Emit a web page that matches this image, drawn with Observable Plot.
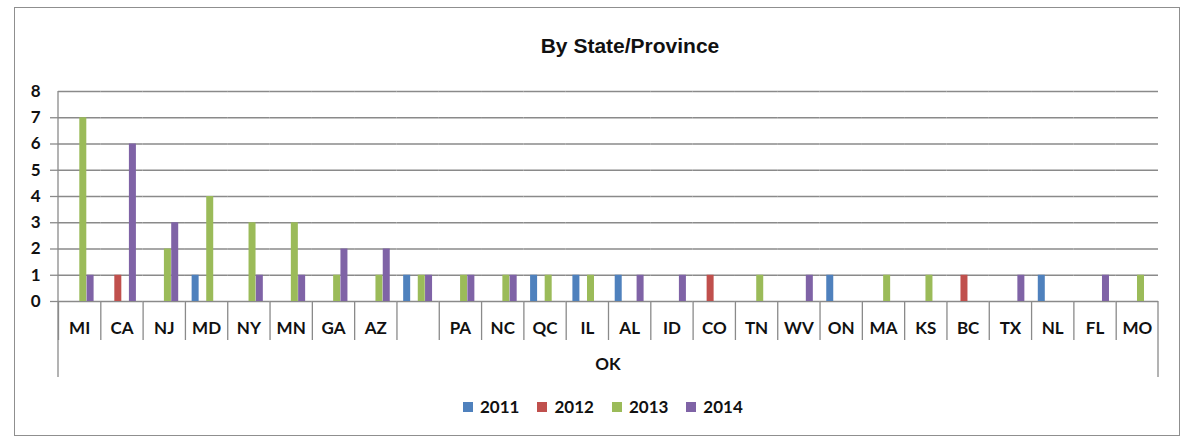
<!DOCTYPE html>
<html>
<head>
<meta charset="utf-8">
<script src="https://cdn.jsdelivr.net/npm/d3@7"></script>
<script src="https://cdn.jsdelivr.net/npm/@observablehq/plot@0.6"></script>
<style>
  body { margin: 0; background: #fff; }
  #wrap { position: relative; width: 1188px; height: 437px; overflow: hidden; font-family: Lato, "Open Sans", sans-serif; }
  #chart { position: absolute; left: 0; top: 0; }
  #border { position: absolute; left: 14px; top: 7px; width: 1166px; height: 429px; border: 1.5px solid #8f8f8f; box-sizing: border-box; pointer-events: none; }
  #title { position: absolute; left: 437px; width: 386px; top: 35px; text-align: center; font-family: "Liberation Sans", Arial, sans-serif; font-weight: bold; font-size: 21px; line-height: 21px; color: #111; }
  #legend { position: absolute; left: 463px; top: 397px; display: flex; align-items: center; font-size: 17px; font-weight: bold; color: #111; line-height: 20px; }
  #legend .item { display: flex; align-items: center; margin-right: 18px; }
  #legend .sw { width: 10px; height: 10px; margin-right: 7px; }
</style>
</head>
<body>
<div id="wrap">
  <div id="chart"></div>
  <div id="title">By State/Province</div>
  <div id="legend"></div>
  <div id="border"></div>
</div>
<script>
const states = ["MI","CA","NJ","MD","NY","MN","GA","AZ","OK","PA","NC","QC","IL","AL","ID","CO","TN","WV","ON","MA","KS","BC","TX","NL","FL","MO"];
const years = ["2011","2012","2013","2014"];
const v2011 = [0,0,0,1,0,0,0,0,1,0,0,1,1,1,0,0,0,0,1,0,0,0,0,1,0,0];
const v2012 = [0,1,0,0,0,0,0,0,0,0,0,0,0,0,0,1,0,0,0,0,0,1,0,0,0,0];
const v2013 = [7,0,2,4,3,3,1,1,1,1,1,1,1,0,0,0,1,0,0,1,1,0,0,0,0,1];
const v2014 = [1,6,3,0,1,1,2,2,1,1,1,0,0,1,1,0,0,1,0,0,0,0,1,0,1,0];
const yTicks = [0,1,2,3,4,5,6,7,8];
const colors = ["#4F81BD","#C0504D","#9BBB59","#7F63A6"];
const wrappedLabel = "OK";

const series = [v2011, v2012, v2013, v2014];
const data = [];
states.forEach((s, i) => years.forEach((yr, j) => {
  if (series[j][i] > 0) data.push({state: s, year: yr, value: series[j][i]});
}));

const W = 1188, mL = 58, mR = 30;
const step = (W - mL - mR) / states.length;
const gray = "#8a8a8a";

const plot = Plot.plot({
  width: W, height: 437,
  marginLeft: mL, marginRight: mR, marginTop: 91, marginBottom: 136,
  style: {fontFamily: "Lato, 'Open Sans', sans-serif", fontSize: "17px", fontWeight: "bold", color: "#111", background: "transparent", overflow: "visible"},
  fx: {domain: states, paddingInner: 0, paddingOuter: 0, round: false, label: null, axis: null},
  x: {domain: years, paddingInner: 0.04, paddingOuter: 0.92, round: false, axis: null},
  y: {domain: [0, 8], label: null},
  color: {domain: years, range: colors},
  marks: [
    Plot.gridY(yTicks, {stroke: gray, strokeOpacity: 1, strokeWidth: 1.3}),
    Plot.barY(data, {fx: "state", x: "year", y: "value", fill: "year"}),
    Plot.axisY(yTicks.slice(0, -1), {tickSize: 8, tickFormat: () => "", stroke: gray, strokeWidth: 1.3, label: null}),
    Plot.axisY(yTicks, {tickSize: 0, tickPadding: 18, fill: "#111", label: null}),
    Plot.axisFx({anchor: "bottom", tickSize: 39, tickFormat: () => "", dx: -step / 2, stroke: gray, strokeWidth: 1.3, label: null}),
    Plot.axisFx({anchor: "bottom", tickSize: 0, tickPadding: 20, tickFormat: d => d === wrappedLabel ? "" : d, fill: "#111", label: null})
  ]
});

document.getElementById("chart").appendChild(plot);

// frame lines and the wrapped second-level label, positioned from Plot's own scales
const fx = plot.scale("fx"), ys = plot.scale("y");
const svg = d3.select(plot);
const x0 = fx.apply(states[0]);
const x1 = fx.apply(states[states.length - 1]) + fx.bandwidth;
const y0 = ys.apply(0), yTop = ys.apply(8);
svg.append("line").attr("x1", x0).attr("x2", x0).attr("y1", yTop).attr("y2", y0 + 76)
  .attr("stroke", gray).attr("stroke-width", 1.3);
svg.append("line").attr("x1", x1).attr("x2", x1).attr("y1", y0).attr("y2", y0 + 76)
  .attr("stroke", gray).attr("stroke-width", 1.3);
svg.append("text").attr("x", (x0 + x1) / 2).attr("y", y0 + 65)
  .attr("text-anchor", "middle").attr("dominant-baseline", "middle")
  .attr("fill", "#111").text(wrappedLabel);

// legend
const legend = document.getElementById("legend");
years.forEach((yr, i) => {
  const item = document.createElement("div");
  item.className = "item";
  const sw = document.createElement("div");
  sw.className = "sw";
  sw.style.background = colors[i];
  const t = document.createElement("span");
  t.textContent = yr;
  item.appendChild(sw); item.appendChild(t);
  legend.appendChild(item);
});
</script>
</body>
</html>
